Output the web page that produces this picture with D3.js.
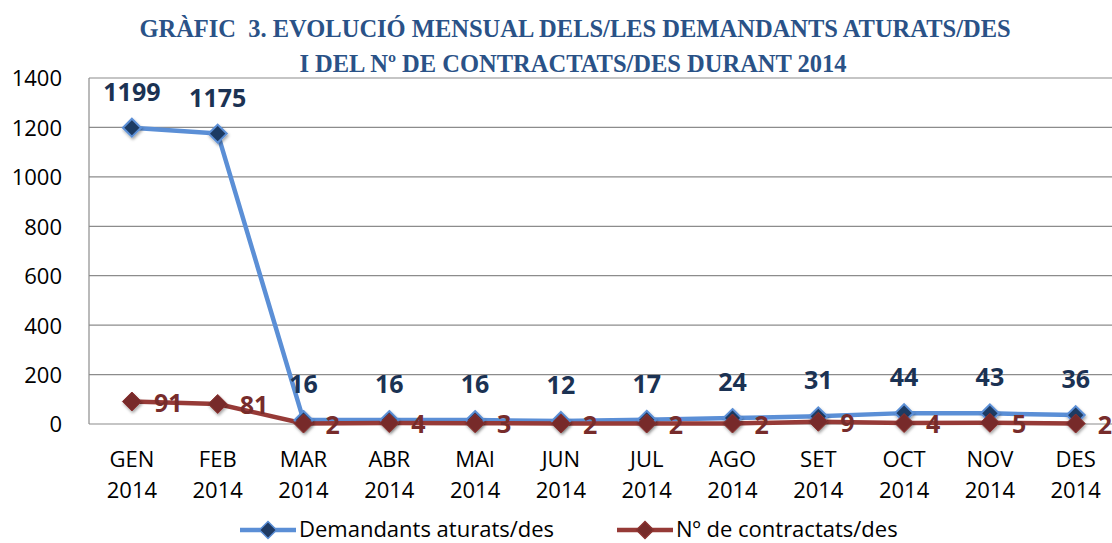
<!DOCTYPE html>
<html><head><meta charset="utf-8">
<script src="https://cdn.jsdelivr.net/npm/d3@7/dist/d3.min.js"></script>
<style>body{margin:0;background:#fff}svg{display:block}</style>
</head><body>
<script>
const months = ["GEN","FEB","MAR","ABR","MAI","JUN","JUL","AGO","SET","OCT","NOV","DES"];
const year = "2014";
const demandants = [1199,1175,16,16,16,12,17,24,31,44,43,36];
const contractats = [91,81,2,4,3,2,2,2,9,4,5,2];
const yTicks = [0,200,400,600,800,1000,1200,1400];
const titleLines = ["GRÀFIC  3. EVOLUCIÓ MENSUAL DELS/LES DEMANDANTS ATURATS/DES","I DEL Nº DE CONTRACTATS/DES DURANT 2014"];
const seriesNames = ["Demandants aturats/des","Nº de contractats/des"];

const W=1112,H=543;
const FONT="'Open Sans', sans-serif";
const svg=d3.select("body").append("svg").attr("width",W).attr("height",H);
const defs=svg.append("defs");
const f=defs.append("filter").attr("id","sh").attr("x","-50%").attr("y","-50%").attr("width","200%").attr("height","200%");
f.append("feDropShadow").attr("dx",1).attr("dy",2).attr("stdDeviation",1.5).attr("flood-color","#000").attr("flood-opacity",0.35);

const x=d3.scaleBand().domain(months).range([89,89+12*85.8]);
const y=d3.scaleLinear().domain([0,1400]).range([424,78]);
const cx=m=>x(m)+x.bandwidth()/2;

// title
svg.append("g").selectAll("text").data(titleLines).join("text")
 .attr("x",(d,i)=>i?573:575).attr("y",(d,i)=>37+i*35).attr("text-anchor","middle")
 .style("white-space","pre")
 .attr("font-family","Liberation Serif, serif").attr("font-weight","bold").attr("font-size",24.5)
 .attr("fill","#2A5287").text(d=>d);

// grid
svg.append("g").selectAll("line").data(yTicks).join("line")
 .attr("x1",89).attr("x2",W).attr("y1",d=>y(d)).attr("y2",d=>y(d))
 .attr("stroke","#8c8c8c").attr("stroke-width",1.2);
svg.append("line").attr("x1",89).attr("x2",89).attr("y1",y(1400)).attr("y2",y(0)).attr("stroke","#8c8c8c").attr("stroke-width",1.2);

// y axis labels
const yAxis=d3.axisLeft(y).tickValues(yTicks).tickFormat(d3.format("d")).tickSize(0).tickPadding(27);
const ga=svg.append("g").attr("transform","translate(89,0)").call(yAxis);
ga.select(".domain").remove();
ga.selectAll("text").attr("font-family",FONT).attr("font-size",22).attr("fill","#000").attr("dy","0.36em");

// x labels
const xl=svg.append("g").selectAll("text").data(months).join("text")
 .attr("x",d=>cx(d)).attr("text-anchor","middle")
 .attr("font-family",FONT).attr("font-size",22).attr("fill","#000");
xl.append("tspan").attr("x",d=>cx(d)).attr("y",467).text(d=>d);
xl.append("tspan").attr("x",d=>cx(d)).attr("y",498).text(year);

const line=d3.line().x((d,i)=>cx(months[i])).y(d=>y(d));
function dpath(r){return `M0,${-r}L${r},0L0,${r}L${-r},0Z`;}

svg.append("path").datum(demandants).attr("d",line).attr("fill","none").attr("stroke","#5B8FD6").attr("stroke-width",4.5).attr("stroke-linejoin","round");
svg.append("path").datum(contractats).attr("d",line).attr("fill","none").attr("stroke","#963A37").attr("stroke-width",4.5).attr("stroke-linejoin","round");

svg.append("g").selectAll("path").data(demandants).join("path")
 .attr("transform",(d,i)=>`translate(${cx(months[i])},${y(d)})`).attr("d",dpath(9))
 .attr("fill","#1F3A63").attr("stroke","#5B8FD6").attr("stroke-width",2).attr("filter","url(#sh)");
svg.append("g").selectAll("path").data(contractats).join("path")
 .attr("transform",(d,i)=>`translate(${cx(months[i])},${y(d)})`).attr("d",dpath(9.5))
 .attr("fill","#772C2B").attr("stroke","#8A3230").attr("stroke-width",1).attr("filter","url(#sh)");

// labels
svg.append("g").selectAll("text").data(demandants).join("text")
 .attr("x",(d,i)=>cx(months[i])).attr("y",d=>y(d)-27).attr("text-anchor","middle")
 .attr("font-family",FONT).attr("font-weight","bold").attr("font-size",25)
 .attr("fill","#1B3253").text(d=>d);
svg.append("g").selectAll("text").data(contractats).join("text")
 .attr("x",(d,i)=>cx(months[i])+22).attr("y",d=>y(d)+10).attr("text-anchor","start")
 .attr("font-family",FONT).attr("font-weight","bold").attr("font-size",25)
 .attr("fill","#772C2B").text(d=>d);

// legend
const leg=[{n:seriesNames[0],x0:240,x1:296,stroke:"#5B8FD6",fill:"#1F3A63",ms:"#5B8FD6"},
           {n:seriesNames[1],x0:617,x1:673,stroke:"#963A37",fill:"#772C2B",ms:"#8A3230"}];
const lg=svg.append("g").selectAll("g").data(leg).join("g");
lg.append("line").attr("x1",d=>d.x0).attr("x2",d=>d.x1).attr("y1",530).attr("y2",530).attr("stroke",d=>d.stroke).attr("stroke-width",4.5);
lg.append("path").attr("transform",d=>`translate(${(d.x0+d.x1)/2},530)`).attr("d",dpath(8.5)).attr("fill",d=>d.fill).attr("stroke",d=>d.ms).attr("stroke-width",1.5);
lg.append("text").attr("x",d=>d.x1+3).attr("y",537).attr("font-family",FONT).attr("font-size",22).attr("fill","#000").text(d=>d.n);
</script>
</body></html>
